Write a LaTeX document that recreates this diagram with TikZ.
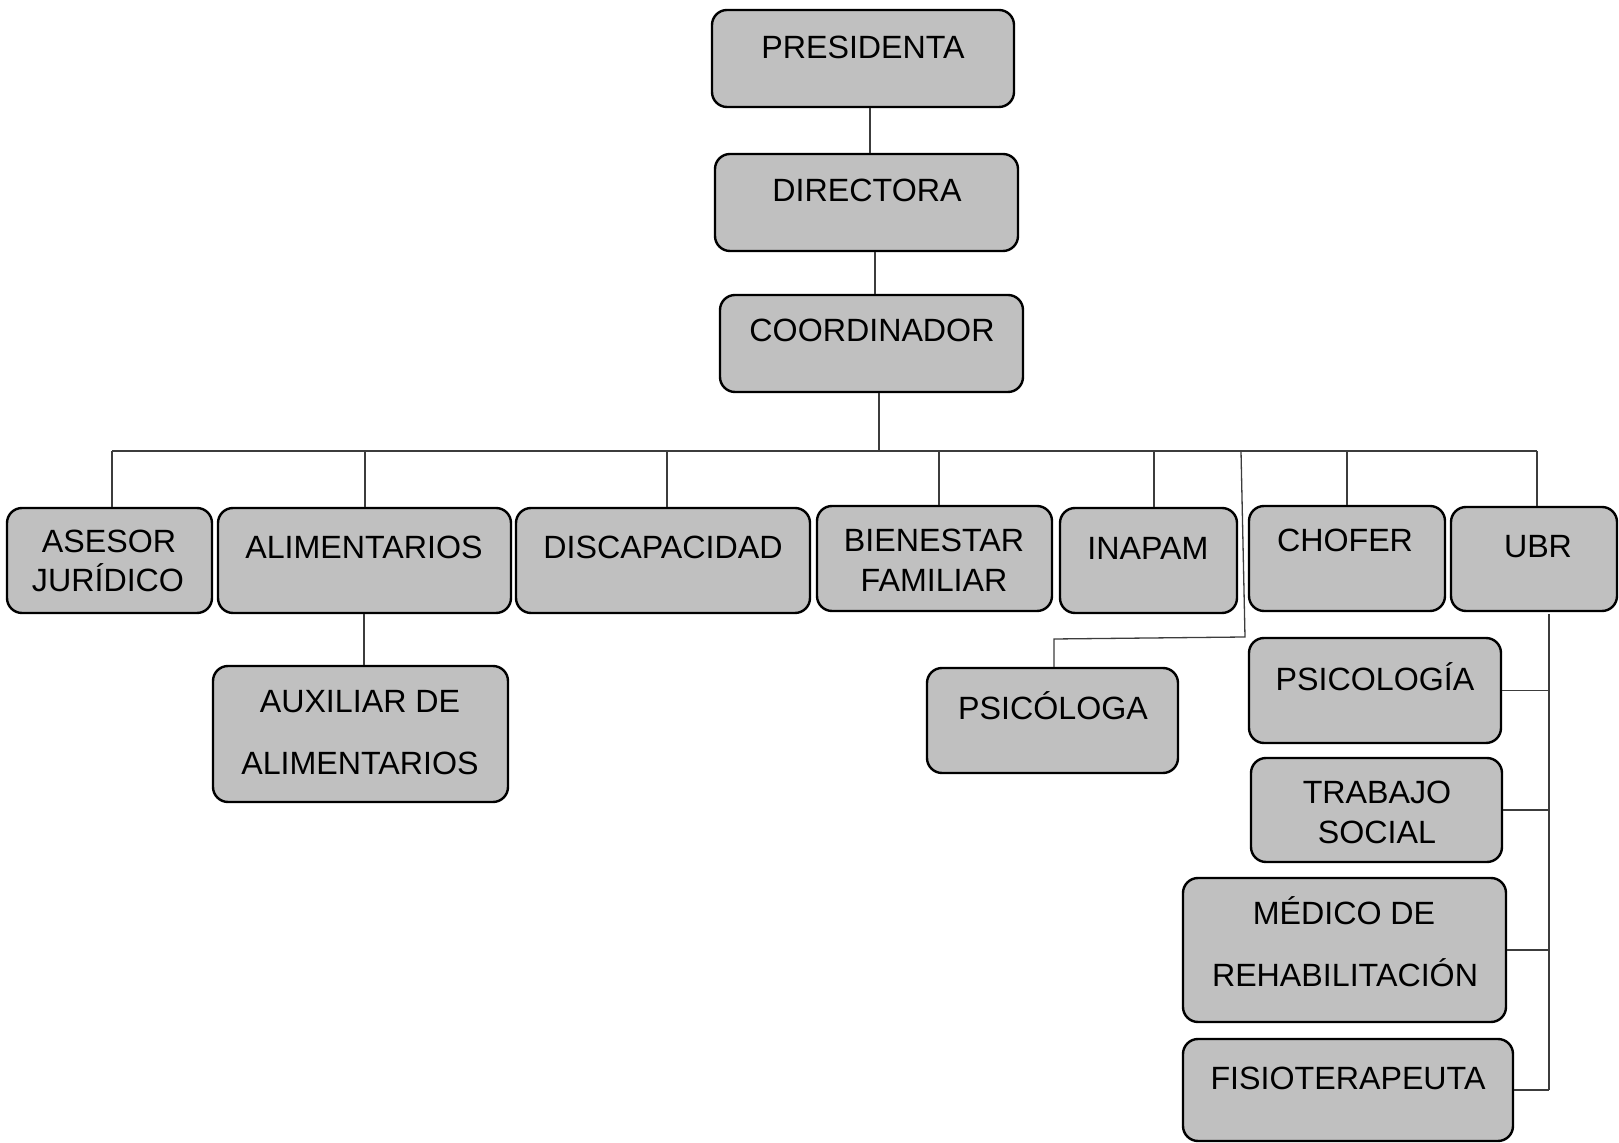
\documentclass[tikz,border=0pt]{standalone}
\usepackage{fontspec}
\setmainfont{Liberation Sans}
\usetikzlibrary{fit}
\definecolor{boxgray}{HTML}{C0C0C0}
\definecolor{linegray}{HTML}{3C3C3C}
\begin{document}
\begin{tikzpicture}[x=0.5pt,y=-0.5pt,
  orgbox/.style={draw=black, line width=1.2pt, fill=boxgray, rounded corners=7.5pt, inner sep=0pt},
  lbl/.style={anchor=base, inner sep=0pt, font=\fontsize{16.1pt}{19pt}\selectfont},
  conn/.style={draw=linegray, line width=0.65pt}]
\useasboundingbox (0,0) rectangle (1619,1143);

% connector anchor coordinates
\coordinate (c1) at (870,0);
\coordinate (c2) at (875,0);
\coordinate (c3) at (879,451);
\coordinate (busL) at (112,451);
\coordinate (busR) at (1537,451);
\coordinate (dB) at (365,451);
\coordinate (dC) at (667,451);
\coordinate (dD) at (939,451);
\coordinate (dE) at (1154,451);
\coordinate (dF) at (1347,451);
\coordinate (s1) at (1241,451);
\coordinate (s2) at (1245,637);
\coordinate (s3) at (1054,639);
\coordinate (a1) at (364,0);
\coordinate (u1) at (1549,614);

% boxes
\node[orgbox, fit={(712,10) (1014,107)}] (pres) {};
\node[orgbox, fit={(715,154) (1018,251)}] (dir) {};
\node[orgbox, fit={(720,295) (1023,392)}] (coord) {};
\node[orgbox, fit={(7,508) (212,613)}] (ase) {};
\node[orgbox, fit={(218,508) (511,613)}] (ali) {};
\node[orgbox, fit={(516,508) (810,613)}] (dis) {};
\node[orgbox, fit={(817,506) (1052,611)}] (bie) {};
\node[orgbox, fit={(1060,508) (1237,613)}] (ina) {};
\node[orgbox, fit={(1249,506) (1445,611)}] (cho) {};
\node[orgbox, fit={(1451,507) (1617,611)}] (ubr) {};
\node[orgbox, fit={(213,666) (508,802)}] (aux) {};
\node[orgbox, fit={(927,668) (1178,773)}] (psa) {};
\node[orgbox, fit={(1249,638) (1501,743)}] (psi) {};
\node[orgbox, fit={(1251,758) (1502,862)}] (tra) {};
\node[orgbox, fit={(1183,878) (1506,1022)}] (med) {};
\node[orgbox, fit={(1183,1039) (1513,1141)}] (fis) {};

% labels
\node[lbl] (t-pres) at (863,58.5) {PRESIDENTA};
\node[lbl] (t-dir) at (867,202) {DIRECTORA};
\node[lbl] (t-coord) at (872,342) {COORDINADOR};
\node[lbl] (t-ase1) at (109,553) {ASESOR};
\node[lbl] (t-ase2) at (108,592) {JURÍDICO};
\node[lbl] (t-ali) at (364,559) {ALIMENTARIOS};
\node[lbl] (t-dis) at (663,559) {DISCAPACIDAD};
\node[lbl] (t-bie1) at (934,552) {BIENESTAR};
\node[lbl] (t-bie2) at (934,592) {FAMILIAR};
\node[lbl] (t-ina) at (1148,560) {INAPAM};
\node[lbl] (t-cho) at (1345,552) {CHOFER};
\node[lbl] (t-ubr) at (1538,558) {UBR};
\node[lbl] (t-aux1) at (360,713) {AUXILIAR DE};
\node[lbl] (t-aux2) at (360,775) {ALIMENTARIOS};
\node[lbl] (t-psa) at (1053,720) {PSICÓLOGA};
\node[lbl] (t-psi) at (1375,691) {PSICOLOGÍA};
\node[lbl] (t-tra1) at (1377,804) {TRABAJO};
\node[lbl] (t-tra2) at (1377,844) {SOCIAL};
\node[lbl] (t-med1) at (1344,925) {MÉDICO DE};
\node[lbl] (t-med2) at (1345,987) {REHABILITACIÓN};
\node[lbl] (t-fis) at (1348,1090) {FISIOTERAPEUTA};

% connectors
\draw[conn] (c1 |- pres.south) -- (c1 |- dir.north);
\draw[conn] (c2 |- dir.south) -- (c2 |- coord.north);
\draw[conn] (c3 |- coord.south) -- (c3);
\draw[conn] (busL) -- (busR);
\draw[conn] (busL) -- (busL |- ase.north);
\draw[conn] (dB) -- (dB |- ali.north);
\draw[conn] (dC) -- (dC |- dis.north);
\draw[conn] (dD) -- (dD |- bie.north);
\draw[conn] (dE) -- (dE |- ina.north);
\draw[conn] (dF) -- (dF |- cho.north);
\draw[conn] (busR) -- (busR |- ubr.north);
\draw[conn] (s1) -- (s2) -- (s3) -- (s3 |- psa.north);
\draw[conn] (a1 |- ali.south) -- (a1 |- aux.north);
\draw[conn] (u1) -- (u1 |- fis.east);
\draw[conn] (psi.east) -- (psi.east -| u1);
\draw[conn] (tra.east) -- (tra.east -| u1);
\draw[conn] (med.east) -- (med.east -| u1);
\draw[conn] (fis.east) -- (fis.east -| u1);
\end{tikzpicture}
\end{document}
